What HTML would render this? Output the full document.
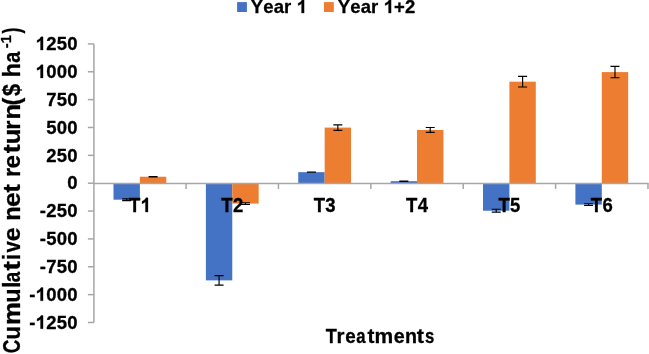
<!DOCTYPE html>
<html><head><meta charset="utf-8"><style>
html,body{margin:0;padding:0;background:#fff;}
body{width:649px;height:354px;overflow:hidden;}
svg{display:block;will-change:transform;}
text{font-family:"Liberation Sans",sans-serif;font-weight:bold;fill:#000;font-kerning:none;stroke:#000;stroke-width:0.3px;}
.one{stroke:#000;stroke-width:0.3px;}
tspan.h{fill-opacity:0;stroke-opacity:0;}
</style></head><body>
<svg width="649" height="354" viewBox="0 0 649 354">
<line x1="93.90" y1="43.90" x2="93.90" y2="322.50" stroke="#A6A6A6" stroke-width="1.5"/>
<line x1="87.90" y1="43.90" x2="93.90" y2="43.90" stroke="#A6A6A6" stroke-width="1.5"/>
<text x="35.59" y="50.10" font-size="18.5" letter-spacing="0.25"><tspan class="h">1</tspan>250</text><path class="one" d="M43.05 50.10L40.51 50.10L40.51 40.53C39.53 41.43 38.40 42.07 37.09 42.49L37.09 40.15C37.79 39.93 38.55 39.51 39.36 38.90C40.16 38.29 40.70 37.57 40.99 36.86L43.05 36.86Z" fill="#000"/>
<line x1="87.90" y1="71.76" x2="93.90" y2="71.76" stroke="#A6A6A6" stroke-width="1.5"/>
<text x="35.59" y="77.96" font-size="18.5" letter-spacing="0.25"><tspan class="h">1</tspan>000</text><path class="one" d="M43.05 77.96L40.51 77.96L40.51 68.39C39.53 69.29 38.40 69.93 37.09 70.35L37.09 68.01C37.79 67.79 38.55 67.37 39.36 66.76C40.16 66.15 40.70 65.43 40.99 64.72L43.05 64.72Z" fill="#000"/>
<line x1="87.90" y1="99.62" x2="93.90" y2="99.62" stroke="#A6A6A6" stroke-width="1.5"/>
<text x="46.13" y="105.82" font-size="18.5" letter-spacing="0.25">750</text>
<line x1="87.90" y1="127.48" x2="93.90" y2="127.48" stroke="#A6A6A6" stroke-width="1.5"/>
<text x="46.13" y="133.68" font-size="18.5" letter-spacing="0.25">500</text>
<line x1="87.90" y1="155.34" x2="93.90" y2="155.34" stroke="#A6A6A6" stroke-width="1.5"/>
<text x="46.13" y="161.54" font-size="18.5" letter-spacing="0.25">250</text>
<line x1="87.90" y1="183.20" x2="93.90" y2="183.20" stroke="#A6A6A6" stroke-width="1.5"/>
<text x="67.21" y="189.40" font-size="18.5" letter-spacing="0.25">0</text>
<line x1="87.90" y1="211.06" x2="93.90" y2="211.06" stroke="#A6A6A6" stroke-width="1.5"/>
<text x="39.72" y="217.26" font-size="18.5" letter-spacing="0.25">-250</text>
<line x1="87.90" y1="238.92" x2="93.90" y2="238.92" stroke="#A6A6A6" stroke-width="1.5"/>
<text x="39.72" y="245.12" font-size="18.5" letter-spacing="0.25">-500</text>
<line x1="87.90" y1="266.78" x2="93.90" y2="266.78" stroke="#A6A6A6" stroke-width="1.5"/>
<text x="39.72" y="272.98" font-size="18.5" letter-spacing="0.25">-750</text>
<line x1="87.90" y1="294.64" x2="93.90" y2="294.64" stroke="#A6A6A6" stroke-width="1.5"/>
<text x="29.18" y="300.84" font-size="18.5" letter-spacing="0.25">-<tspan class="h">1</tspan>000</text><path class="one" d="M43.05 300.84L40.51 300.84L40.51 291.27C39.53 292.17 38.40 292.81 37.09 293.23L37.09 290.89C37.79 290.67 38.55 290.25 39.36 289.64C40.16 289.03 40.70 288.31 40.99 287.60L43.05 287.60Z" fill="#000"/>
<line x1="87.90" y1="322.50" x2="93.90" y2="322.50" stroke="#A6A6A6" stroke-width="1.5"/>
<text x="29.18" y="328.70" font-size="18.5" letter-spacing="0.25">-<tspan class="h">1</tspan>250</text><path class="one" d="M43.05 328.70L40.51 328.70L40.51 319.13C39.53 320.03 38.40 320.67 37.09 321.09L37.09 318.75C37.79 318.53 38.55 318.11 39.36 317.50C40.16 316.89 40.70 316.17 40.99 315.46L43.05 315.46Z" fill="#000"/>
<rect x="113.50" y="183.20" width="26.39" height="16.49" fill="#4472C4"/>
<rect x="139.89" y="176.74" width="26.39" height="6.46" fill="#ED7D31"/>
<rect x="205.88" y="183.20" width="26.39" height="97.18" fill="#4472C4"/>
<rect x="232.27" y="183.20" width="26.39" height="20.39" fill="#ED7D31"/>
<rect x="298.26" y="172.17" width="26.39" height="11.03" fill="#4472C4"/>
<rect x="324.65" y="127.59" width="26.39" height="55.61" fill="#ED7D31"/>
<rect x="390.64" y="181.19" width="26.39" height="2.01" fill="#4472C4"/>
<rect x="417.03" y="129.93" width="26.39" height="53.27" fill="#ED7D31"/>
<rect x="483.02" y="183.20" width="26.39" height="27.53" fill="#4472C4"/>
<rect x="509.41" y="81.68" width="26.39" height="101.52" fill="#ED7D31"/>
<rect x="575.40" y="183.20" width="26.39" height="21.40" fill="#4472C4"/>
<rect x="601.79" y="72.09" width="26.39" height="111.11" fill="#ED7D31"/>
<line x1="93.90" y1="183.40" x2="648.73" y2="183.40" stroke="#A6A6A6" stroke-width="1.5"/>
<line x1="186.08" y1="183.40" x2="186.08" y2="188.90" stroke="#A6A6A6" stroke-width="1.5"/>
<line x1="278.46" y1="183.40" x2="278.46" y2="188.90" stroke="#A6A6A6" stroke-width="1.5"/>
<line x1="370.84" y1="183.40" x2="370.84" y2="188.90" stroke="#A6A6A6" stroke-width="1.5"/>
<line x1="463.22" y1="183.40" x2="463.22" y2="188.90" stroke="#A6A6A6" stroke-width="1.5"/>
<line x1="555.60" y1="183.40" x2="555.60" y2="188.90" stroke="#A6A6A6" stroke-width="1.5"/>
<line x1="647.98" y1="183.40" x2="647.98" y2="188.90" stroke="#A6A6A6" stroke-width="1.5"/>
<path d="M122.19 198.80H131.19M126.69 198.80V200.58M122.19 200.58H131.19" stroke="#000" stroke-width="1.15" fill="none"/>
<path d="M148.59 176.63H157.59M153.09 176.63V176.85M148.59 176.85H157.59" stroke="#000" stroke-width="1.15" fill="none"/>
<path d="M214.57 275.58H223.57M219.07 275.58V285.17M214.57 285.17H223.57" stroke="#000" stroke-width="1.15" fill="none"/>
<path d="M240.97 202.70H249.97M245.47 202.70V204.49M240.97 204.49H249.97" stroke="#000" stroke-width="1.15" fill="none"/>
<path d="M306.95 172.06H315.95M311.45 172.06V172.28M306.95 172.28H315.95" stroke="#000" stroke-width="1.15" fill="none"/>
<path d="M333.35 124.81H342.35M337.85 124.81V130.38M333.35 130.38H342.35" stroke="#000" stroke-width="1.15" fill="none"/>
<path d="M399.33 181.08H408.33M403.83 181.08V181.31M399.33 181.31H408.33" stroke="#000" stroke-width="1.15" fill="none"/>
<path d="M425.73 127.48H434.73M430.23 127.48V132.38M425.73 132.38H434.73" stroke="#000" stroke-width="1.15" fill="none"/>
<path d="M491.71 209.28H500.71M496.21 209.28V212.17M491.71 212.17H500.71" stroke="#000" stroke-width="1.15" fill="none"/>
<path d="M518.11 76.33H527.11M522.61 76.33V87.03M518.11 87.03H527.11" stroke="#000" stroke-width="1.15" fill="none"/>
<path d="M584.09 203.70H593.09M588.59 203.70V205.49M584.09 205.49H593.09" stroke="#000" stroke-width="1.15" fill="none"/>
<path d="M610.49 66.41H619.49M614.99 66.41V77.78M610.49 77.78H619.49" stroke="#000" stroke-width="1.15" fill="none"/>
<g transform="matrix(1 0 0 1.07 0 -14.84)"><text x="128.97" y="212.00" font-size="18.5" letter-spacing="0.25">T<tspan class="h">1</tspan></text><path class="one" d="M147.97 212.00L145.43 212.00L145.43 202.43C144.46 203.33 143.32 203.97 142.01 204.39L142.01 202.05C142.72 201.83 143.47 201.41 144.29 200.80C145.08 200.19 145.62 199.47 145.91 198.76L147.97 198.76Z" fill="#000"/></g>
<g transform="matrix(1 0 0 1.07 0 -14.84)"><text x="221.35" y="212.00" font-size="18.5" letter-spacing="0.25">T2</text></g>
<g transform="matrix(1 0 0 1.07 0 -14.84)"><text x="313.73" y="212.00" font-size="18.5" letter-spacing="0.25">T3</text></g>
<g transform="matrix(1 0 0 1.07 0 -14.84)"><text x="406.11" y="212.00" font-size="18.5" letter-spacing="0.25">T4</text></g>
<g transform="matrix(1 0 0 1.07 0 -14.84)"><text x="498.49" y="212.00" font-size="18.5" letter-spacing="0.25">T5</text></g>
<g transform="matrix(1 0 0 1.07 0 -14.84)"><text x="590.87" y="212.00" font-size="18.5" letter-spacing="0.25">T6</text></g>
<rect x="237.1" y="2.1" width="9.8" height="9.9" fill="#4472C4"/>
<text x="250.80" y="13.10" font-size="18.5" letter-spacing="0.12">Year <tspan class="h">1</tspan></text><path class="one" d="M304.11 13.10L301.57 13.10L301.57 3.53C300.59 4.43 299.46 5.07 298.15 5.49L298.15 3.15C298.85 2.93 299.61 2.51 300.42 1.90C301.22 1.29 301.76 0.57 302.05 -0.14L304.11 -0.14Z" fill="#000"/>
<rect x="324.0" y="2.1" width="9.8" height="9.9" fill="#ED7D31"/>
<text x="337.80" y="13.10" font-size="18.5" letter-spacing="0.12">Year <tspan class="h">1</tspan>+2</text><path class="one" d="M391.11 13.10L388.57 13.10L388.57 3.53C387.59 4.43 386.46 5.07 385.15 5.49L385.15 3.15C385.85 2.93 386.61 2.51 387.42 1.90C388.22 1.29 388.76 0.57 389.05 -0.14L391.11 -0.14Z" fill="#000"/>
<text y="343" font-size="21"><tspan x="325.65" textLength="11.10" lengthAdjust="spacingAndGlyphs">T</tspan><tspan x="336.60" textLength="7.96" lengthAdjust="spacingAndGlyphs">r</tspan><tspan x="345.21" textLength="10.48" lengthAdjust="spacingAndGlyphs">e</tspan><tspan x="356.18" textLength="9.34" lengthAdjust="spacingAndGlyphs">a</tspan><tspan x="367.60" textLength="6.91" lengthAdjust="spacingAndGlyphs">t</tspan><tspan x="374.46" textLength="18.69" lengthAdjust="spacingAndGlyphs">m</tspan><tspan x="393.78" textLength="10.94" lengthAdjust="spacingAndGlyphs">e</tspan><tspan x="405.05" textLength="12.02" lengthAdjust="spacingAndGlyphs">n</tspan><tspan x="416.88" textLength="7.23" lengthAdjust="spacingAndGlyphs">t</tspan><tspan x="424.93" textLength="9.34" lengthAdjust="spacingAndGlyphs">s</tspan></text>
<g transform="translate(19.9,0) rotate(-90)">
<text y="0" font-size="23.5" xml:space="preserve"><tspan x="-353.37" textLength="13.58" lengthAdjust="spacingAndGlyphs">C</tspan><tspan x="-339.60" textLength="13.28" lengthAdjust="spacingAndGlyphs">u</tspan><tspan x="-324.95" textLength="22.89" lengthAdjust="spacingAndGlyphs">m</tspan><tspan x="-302.80" textLength="14.29" lengthAdjust="spacingAndGlyphs">u</tspan><tspan x="-287.95" textLength="6.53" lengthAdjust="spacingAndGlyphs">l</tspan><tspan x="-282.36" textLength="10.46" lengthAdjust="spacingAndGlyphs">a</tspan><tspan x="-270.50" textLength="9.39" lengthAdjust="spacingAndGlyphs">t</tspan><tspan x="-260.20" textLength="6.53" lengthAdjust="spacingAndGlyphs">i</tspan><tspan x="-252.53" textLength="11.27" lengthAdjust="spacingAndGlyphs">v</tspan><tspan x="-241.23" textLength="13.94" lengthAdjust="spacingAndGlyphs">e</tspan><tspan x="-227.29"> </tspan><tspan x="-220.71" textLength="14.42" lengthAdjust="spacingAndGlyphs">n</tspan><tspan x="-207.09" textLength="14.74" lengthAdjust="spacingAndGlyphs">e</tspan><tspan x="-192.46" textLength="8.42" lengthAdjust="spacingAndGlyphs">t</tspan><tspan x="-184.04"> </tspan><tspan x="-177.12" textLength="9.15" lengthAdjust="spacingAndGlyphs">r</tspan><tspan x="-168.60" textLength="13.47" lengthAdjust="spacingAndGlyphs">e</tspan><tspan x="-153.17" textLength="8.85" lengthAdjust="spacingAndGlyphs">t</tspan><tspan x="-144.33" textLength="15.56" lengthAdjust="spacingAndGlyphs">u</tspan><tspan x="-129.67" textLength="9.15" lengthAdjust="spacingAndGlyphs">r</tspan><tspan x="-119.63" textLength="15.56" lengthAdjust="spacingAndGlyphs">n</tspan><tspan x="-105.39" textLength="7.83" lengthAdjust="spacingAndGlyphs">(</tspan><tspan x="-95.93" textLength="11.99" lengthAdjust="spacingAndGlyphs">$</tspan><tspan x="-83.94"> </tspan><tspan x="-77.61" textLength="14.54" lengthAdjust="spacingAndGlyphs">h</tspan><tspan x="-62.73" textLength="11.06" lengthAdjust="spacingAndGlyphs">a</tspan></text>
<text x="-48.17" y="-8.60" font-size="14.5" textLength="12.87" lengthAdjust="spacingAndGlyphs">-1</text>
<text x="-33.52" y="0.00" font-size="23.5" textLength="6.02" lengthAdjust="spacingAndGlyphs">)</text>
</g>
</svg>
</body></html>
